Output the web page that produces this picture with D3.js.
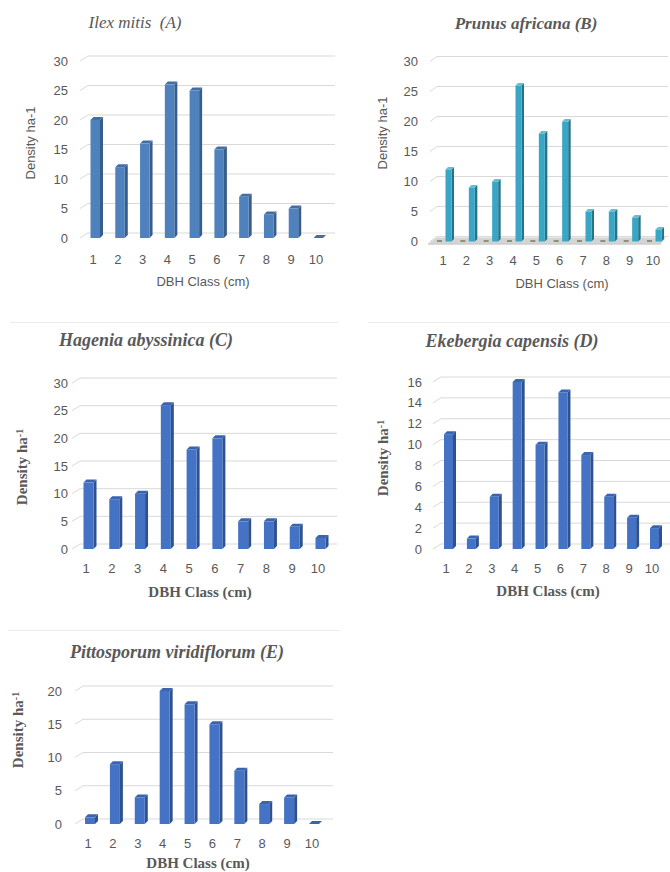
<!DOCTYPE html>
<html>
<head>
<meta charset="utf-8">
<script src="https://cdn.jsdelivr.net/npm/d3@7/dist/d3.min.js"></script>
<style>
  body { margin: 0; background: #fff; }
  svg { display: block; }
</style>
</head>
<body>
<div id="chart"></div>
<script>
// DBH classes and density per species
var classes = ["1", "2", "3", "4", "5", "6", "7", "8", "9", "10"];
var ilexMitis = [20, 12, 16, 26, 25, 15, 7, 4, 5, 0];
var prunusAfricana = [12, 9, 10, 26, 18, 20, 5, 5, 4, 2];
var hageniaAbyssinica = [12, 9, 10, 26, 18, 20, 5, 5, 4, 2];
var ekebergiaCapensis = [11, 1, 5, 16, 10, 15, 9, 5, 3, 2];
var pittosporumViridiflorum = [1, 9, 4, 20, 18, 15, 8, 3, 4, 0];

var ticks30 = [0, 5, 10, 15, 20, 25, 30];
var ticks16 = [0, 2, 4, 6, 8, 10, 12, 14, 16];
var ticks20 = [0, 5, 10, 15, 20];

var w = 670, h = 872;

var svg = d3.select("#chart")
  .append("svg")
  .attr("width", w)
  .attr("height", h);

// light separators between the panels
svg.append("line").attr("x1", 10).attr("x2", 338).attr("y1", 322.5).attr("y2", 322.5)
  .attr("stroke", "#ececec");
svg.append("line").attr("x1", 368).attr("x2", 670).attr("y1", 322.5).attr("y2", 322.5)
  .attr("stroke", "#ececec");
svg.append("line").attr("x1", 8).attr("x2", 340).attr("y1", 630.5).attr("y2", 630.5)
  .attr("stroke", "#ececec");

var grey = "#595959";
var sans = "'Liberation Sans', Arial, sans-serif";
var serif = "'Liberation Serif', 'Times New Roman', serif";

function panel(o) {
  var g = svg.append("g");

  var y = d3.scaleLinear().domain([0, o.ticks[o.ticks.length - 1]]).range([o.y0, o.y1]);
  var x = d3.scalePoint().domain(classes).range([o.xFirst, o.xLast]);

  // gridlines with the 3D slant at the left wall
  g.selectAll(".grid")
    .data(o.ticks)
    .enter()
    .append("path")
    .attr("d", function(t) {
      return "M" + o.gx0 + "," + y(t) + "L" + (o.gx0 + o.dx) + "," + (y(t) - o.dy) + "H" + o.gx1;
    })
    .attr("fill", "none")
    .attr("stroke", "#d9d9d9")
    .attr("stroke-width", 1);

  // floor plate (only in B)
  if (o.floor) {
    var f0 = y(0);
    g.append("polygon")
      .attr("points", [
        [o.gx0 - 2, f0 + 2], [o.gx1 - o.dx, f0 + 2],
        [o.gx1 - 2, f0 - o.dy + 1], [o.gx0 + o.dx, f0 - o.dy + 1]
      ].join(" "))
      .attr("fill", "#d4d4d4");
    g.append("line")
      .attr("x1", o.gx0 - 2).attr("x2", o.gx1 - o.dx)
      .attr("y1", f0 + 2.5).attr("y2", f0 + 2.5)
      .attr("stroke", "#b5b5b5");
    // empty companion series sitting on the floor
    g.selectAll(".zero")
      .data(classes)
      .enter()
      .append("line")
      .attr("x1", function(d) { return x(d) - 6; })
      .attr("x2", function(d) { return x(d) - 1; })
      .attr("y1", f0 - 0.5)
      .attr("y2", f0 - 0.5)
      .attr("stroke", "#5a6440")
      .attr("stroke-width", 1.2);
  }

  var d = o.depth;
  var bars = g.selectAll(".bar")
    .data(o.values)
    .enter()
    .append("g");

  // right side face
  bars.append("polygon")
    .attr("points", function(v, i) {
      var xr = x(classes[i]) + o.bx + o.bw;
      return [[xr, y(v)], [xr + d, y(v) - d], [xr + d, y(0) - d], [xr, y(0)]].join(" ");
    })
    .attr("fill", o.side);

  // top face
  bars.append("polygon")
    .attr("points", function(v, i) {
      var xl = x(classes[i]) + o.bx, xr = xl + o.bw;
      return [[xl, y(v)], [xl + d, y(v) - d], [xr + d, y(v) - d], [xr, y(v)]].join(" ");
    })
    .attr("fill", o.top);

  // front face
  bars.append("rect")
    .attr("x", function(v, i) { return x(classes[i]) + o.bx; })
    .attr("y", function(v) { return y(v); })
    .attr("width", o.bw)
    .attr("height", function(v) { return y(0) - y(v); })
    .attr("fill", o.front);

  // y tick labels
  g.selectAll(".ylab")
    .data(o.ticks)
    .enter()
    .append("text")
    .attr("x", o.yLabX)
    .attr("y", function(t) { return y(t); })
    .attr("dy", "0.35em")
    .attr("text-anchor", "end")
    .style("font-family", sans)
    .style("font-size", "13px")
    .style("fill", grey)
    .text(function(t) { return t; });

  // x tick labels
  g.selectAll(".xlab")
    .data(classes)
    .enter()
    .append("text")
    .attr("x", function(c) { return x(c); })
    .attr("y", o.xLabY)
    .attr("dy", "0.35em")
    .attr("text-anchor", "middle")
    .style("font-family", sans)
    .style("font-size", "13px")
    .style("fill", grey)
    .text(function(c) { return c; });

  // chart title
  g.append("text")
    .attr("x", o.titleX)
    .attr("y", o.titleY)
    .attr("text-anchor", "middle")
    .style("font-family", serif)
    .style("font-style", "italic")
    .style("font-weight", o.boldTitle ? "bold" : "normal")
    .style("font-size", o.titleSize + "px")
    .style("fill", grey)
    .attr("xml:space", "preserve")
    .text(o.title);

  // axis titles
  var xt = g.append("text")
    .attr("x", o.xTitleX)
    .attr("y", o.xTitleY)
    .attr("text-anchor", "middle")
    .style("fill", grey)
    .text("DBH Class (cm)");

  var yt = g.append("text")
    .attr("transform", "translate(" + o.yTitleX + "," + o.yTitleY + ") rotate(-90)")
    .attr("text-anchor", "middle")
    .style("fill", grey);

  if (o.serifAxis) {
    xt.style("font-family", serif).style("font-weight", "bold").style("font-size", "15px");
    yt.style("font-family", serif).style("font-weight", "bold").style("font-size", "15px");
    yt.append("tspan").text("Density ha");
    yt.append("tspan").attr("dy", "-0.45em").style("font-size", "10px").text("-1");
  } else {
    xt.style("font-family", sans).style("font-size", "13px");
    yt.style("font-family", sans).style("font-size", "13px").text("Density ha-1");
  }
}

var blue = { front: "#4472c4", side: "#2f528f", top: "#3a64ad" };

// A
panel({
  values: ilexMitis, ticks: ticks30,
  y0: 238, y1: 61, xFirst: 93, xLast: 316,
  gx0: 80, gx1: 335, dx: 8, dy: 5,
  bx: -2.5, bw: 9.5, depth: 3,
  front: "#4f81bd", side: "#385d8a", top: "#426ea6",
  yLabX: 68, xLabY: 259,
  title: "Ilex mitis  (A)", titleX: 135, titleY: 28, titleSize: 17, boldTitle: false,
  xTitleX: 203, xTitleY: 286, yTitleX: 35, yTitleY: 143, serifAxis: false
});

// B
panel({
  values: prunusAfricana, ticks: ticks30,
  y0: 241.5, y1: 61.5, xFirst: 443, xLast: 653,
  gx0: 430, gx1: 668, dx: 7, dy: 5,
  bx: 2.5, bw: 6, depth: 2.5,
  front: "#38a6c4", side: "#24748a", top: "#62bdd6",
  yLabX: 418, xLabY: 260,
  title: "Prunus africana (B)", titleX: 526, titleY: 29, titleSize: 17, boldTitle: true,
  xTitleX: 562, xTitleY: 288, yTitleX: 387, yTitleY: 133, serifAxis: false,
  floor: true
});

// C
panel({
  values: hageniaAbyssinica, ticks: ticks30,
  y0: 549, y1: 383, xFirst: 86, xLast: 318,
  gx0: 72, gx1: 337, dx: 8, dy: 5,
  bx: -2.5, bw: 10, depth: 3,
  front: blue.front, side: blue.side, top: blue.top,
  yLabX: 68, xLabY: 568,
  title: "Hagenia abyssinica (C)", titleX: 146, titleY: 346, titleSize: 18, boldTitle: true,
  xTitleX: 200, xTitleY: 597, yTitleX: 27, yTitleY: 467, serifAxis: true
});

// D
panel({
  values: ekebergiaCapensis, ticks: ticks16,
  y0: 549, y1: 382, xFirst: 446, xLast: 652,
  gx0: 433, gx1: 670, dx: 8, dy: 5,
  bx: -2, bw: 9, depth: 3,
  front: blue.front, side: blue.side, top: blue.top,
  yLabX: 422, xLabY: 568,
  title: "Ekebergia capensis (D)", titleX: 512, titleY: 347, titleSize: 18, boldTitle: true,
  xTitleX: 548, xTitleY: 596, yTitleX: 388, yTitleY: 458, serifAxis: true
});

// E
panel({
  values: pittosporumViridiflorum, ticks: ticks20,
  y0: 824, y1: 691, xFirst: 88, xLast: 312,
  gx0: 75, gx1: 333, dx: 8, dy: 5,
  bx: -3, bw: 10, depth: 3,
  front: blue.front, side: blue.side, top: blue.top,
  yLabX: 62, xLabY: 843,
  title: "Pittosporum viridiflorum (E)", titleX: 177, titleY: 658, titleSize: 18, boldTitle: true,
  xTitleX: 198, xTitleY: 868, yTitleX: 23, yTitleY: 730, serifAxis: true
});
</script>
</body>
</html>
